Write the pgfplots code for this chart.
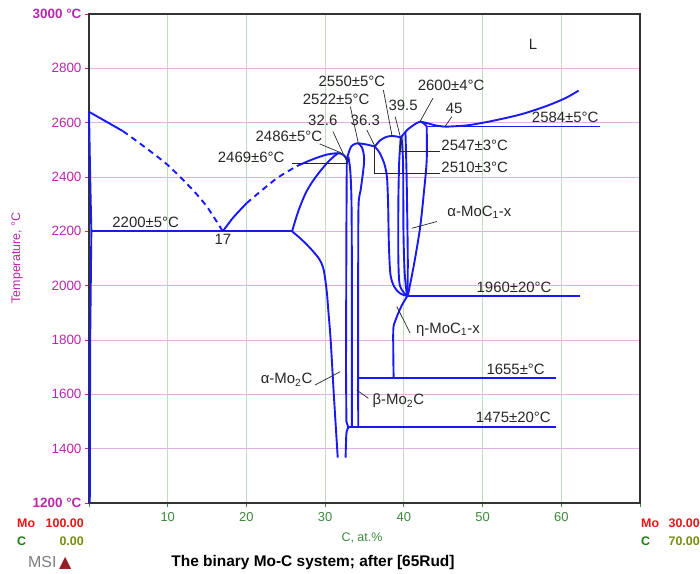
\documentclass[border=0pt]{standalone}
\usepackage{pgfplots}
\pgfplotsset{compat=1.18}
\usepackage{fontspec}
\setmainfont{Liberation Sans}
\newfontfamily\symfont{DejaVu Sans}
\definecolor{lineblue}{RGB}{25,25,245}
\definecolor{ymag}{RGB}{185,40,170}
\definecolor{xgreen}{RGB}{60,135,60}
\definecolor{cgreen}{RGB}{20,130,20}
\definecolor{olive}{RGB}{120,140,10}
\definecolor{gridmag}{RGB}{228,175,228}
\definecolor{gridgreen}{RGB}{190,222,190}
\definecolor{msired}{RGB}{235,20,20}
\definecolor{msigray}{RGB}{125,125,125}
\definecolor{logored}{RGB}{150,30,40}
\tikzset{
  bl/.style={draw=lineblue, line width=1.9bp, mark=none},
  dsh/.style={draw=lineblue, line width=1.9bp, mark=none, dash pattern=on 6bp off 4.5bp},
  ld/.style={draw=black!85, line width=0.7bp, mark=none},
  lbl/.style={font=\fontsize{15}{17}\selectfont, text=black!85, inner sep=0pt},
}
\begin{document}
\begin{tikzpicture}[x=1bp,y=1bp]
\useasboundingbox (-89,-71) rectangle (611,503);
\begin{axis}[
  at={(0,0)}, anchor=south west,
  scale only axis, width=551bp, height=489bp,
  xmin=0, xmax=70, ymin=1200, ymax=3000,
  xtick={0,10,20,30,40,50,60,70}, xticklabels={,10,20,30,40,50,60,},
  ytick={1200,1400,1600,1800,2000,2200,2400,2600,2800,3000},
  yticklabels={\textbf{1200 °C},1400,1600,1800,2000,2200,2400,2600,2800,\textbf{3000 °C}},
  xmajorgrids, ymajorgrids,
  x grid style={gridgreen, line width=0.9bp},
  y grid style={gridmag, line width=0.9bp},
  tick pos=left,
  tick align=outside, major tick length=4bp,
  tick style={line width=0.9bp},
  every major x tick/.append style={xgreen},
  every major y tick/.append style={ymag},
  xticklabel style={text=xgreen, font=\fontsize{13}{15}\selectfont, yshift=-2bp},
  yticklabel style={text=ymag, font=\fontsize{13.5}{15}\selectfont},
  axis line style={black!80, line width=1.2bp},
  clip=false,
]
% ---- Mo side ----
\addplot[bl] coordinates {(0,2640) (4.3,2569)};
\addplot[dsh, smooth] coordinates {(4.3,2569) (7,2512) (10,2444) (13,2358) (15,2290) (17,2200)};
\addplot[bl] coordinates {(0,2640) (0.15,2400) (0.3,2200) (0.15,1800) (0.1,1200)};
\addplot[bl] coordinates {(0.3,2200) (25.8,2200)};
% ---- Mo2C liquidus from eutectic ----
\addplot[bl, smooth] coordinates {(17,2200) (18.3,2250) (20,2303)};
\addplot[dsh, smooth] coordinates {(20,2303) (22,2352) (24,2398) (26.4,2440)};
\addplot[bl, smooth] coordinates {(26.4,2440) (28.5,2466) (30.3,2483) (31.7,2488)};
% ---- Mo2C solidus / solvus ----
\addplot[bl, smooth] coordinates {(25.8,2200) (26.6,2275) (27.6,2345) (28.8,2400) (30.2,2450) (31.2,2478) (31.7,2488)};
\addplot[bl, smooth] coordinates {(25.8,2200) (27,2170) (28.1,2138) (29.2,2100) (29.8,2060) (30.2,1980) (30.4,1910) (30.7,1800) (31.1,1600) (31.6,1367)};
\addplot[bl, smooth] coordinates {(31.7,2488) (32.3,2482) (32.75,2467)};
\addplot[bl] coordinates {(32.75,2467) (32.7,2200) (32.65,1700) (32.7,1500) (32.95,1478)};
\addplot[bl, smooth] coordinates {(32.95,1478) (32.7,1455) (32.6,1367)};
% ---- beta-Mo2C dome ----
\addplot[bl, smooth] coordinates {(32.75,2467) (33.0,2490) (33.3,2512) (33.8,2522) (34.2,2524)};
\addplot[bl, smooth] coordinates {(32.95,2475) (33.2,2420) (33.35,2300) (33.4,2000) (33.4,1478)};
\addplot[bl, smooth] coordinates {(34.2,2524) (35.2,2520) (36.3,2512)};
\addplot[bl, smooth] coordinates {(34.2,2524) (34.7,2508) (34.95,2470) (34.85,2426) (34.5,2350) (34.25,2300) (34.2,2100) (34.2,1478)};
% ---- eta dome ----
\addplot[bl, smooth] coordinates {(36.3,2512) (37.0,2535) (37.8,2548) (38.5,2551)};
\addplot[bl, smooth] coordinates {(38.5,2551) (39.1,2549) (39.6,2545)};
\addplot[bl, smooth] coordinates {(36.3,2512) (36.9,2490) (37.5,2450) (37.85,2400) (38.0,2300) (38.1,2150) (38.3,2040) (38.8,1995) (39.5,1972) (40.4,1962)};
\addplot[bl, smooth] coordinates {(39.6,2545) (39.4,2450) (39.3,2300) (39.3,2100) (39.5,2000) (40.4,1962)};
% ---- alpha-MoC dome ----
\addplot[bl, smooth] coordinates {(39.6,2545) (40.5,2575) (41.6,2598) (42.1,2604)};
\addplot[bl, smooth] coordinates {(42.1,2604) (43.0,2598) (44.0,2590) (45.2,2585)};
\addplot[bl, smooth] coordinates {(42.1,2604) (42.6,2596) (42.9,2586)};
\addplot[bl, smooth] coordinates {(39.7,2548) (39.9,2450) (39.95,2200) (40.1,2050) (40.4,1962)};
\addplot[bl, smooth] coordinates {(40.2,2566) (40.35,2400) (40.5,2100) (40.45,1962)};
\addplot[bl, smooth] coordinates {(42.9,2586) (42.9,2460) (42.5,2330) (42.05,2211) (41.3,2080) (40.5,1962)};
% ---- graphite side ----
\addplot[bl] coordinates {(42.9,2586) (64.9,2586)};
\addplot[bl, smooth] coordinates {(45.2,2585) (48,2590) (51,2605) (54.8,2630) (58,2660) (60.5,2690) (62.2,2718)};
\addplot[bl] coordinates {(40.45,1962) (62.4,1962)};
\addplot[bl, smooth] coordinates {(40.45,1962) (39.7,1925) (38.9,1870) (38.65,1830) (38.7,1659)};
\addplot[bl] coordinates {(34.2,1659) (59.3,1659)};
\addplot[bl] coordinates {(32.95,1479) (59.3,1479)};
% ---- leader lines ----
\addplot[ld] coordinates {(29.3,2522) (32.0,2489)};
\addplot[ld] coordinates {(31.0,2567) (32.65,2463)};
\addplot[ld] coordinates {(25.8,2450) (32.8,2450) (32.8,2469)};
\addplot[ld] coordinates {(33.2,2659) (34.2,2526)};
\addplot[ld] coordinates {(35.3,2573) (36.3,2514)};
\addplot[ld] coordinates {(37.4,2720) (38.5,2551)};
\addplot[ld] coordinates {(38.9,2622) (39.6,2542)};
\addplot[ld] coordinates {(43.7,2690) (42.05,2604)};
\addplot[ld] coordinates {(46.1,2622) (45.2,2585)};
\addplot[ld] coordinates {(39.6,2542) (39.6,2493) (44.6,2493)};
\addplot[ld] coordinates {(36.3,2514) (36.3,2414) (44.6,2414)};
\addplot[ld] coordinates {(41.0,2211) (44.2,2236)};
\addplot[ld] coordinates {(39.1,1923) (40.8,1825)};
\addplot[ld] coordinates {(35.5,1585) (34.0,1616)};
\addplot[ld] coordinates {(28.7,1634) (31.9,1683)};
% ---- labels ----
\node[lbl] at (axis cs:56.4,2890) {L};
\node[lbl] at (axis cs:60.5,2621) {2584±5°C};
\node[lbl] at (axis cs:46.0,2739) {2600±4°C};
\node[lbl] at (axis cs:46.4,2654) {45};
\node[lbl] at (axis cs:39.9,2662) {39.5};
\node[lbl] at (axis cs:33.4,2753) {2550±5°C};
\node[lbl] at (axis cs:31.4,2687) {2522±5°C};
\node[lbl] at (axis cs:29.7,2610) {32.6};
\node[lbl] at (axis cs:35.1,2610) {36.3};
\node[lbl] at (axis cs:25.4,2551) {2486±5°C};
\node[lbl] at (axis cs:20.6,2472) {2469±6°C};
\node[lbl] at (axis cs:7.2,2234) {2200±5°C};
\node[lbl] at (axis cs:17.0,2172) {17};
\node[lbl] at (axis cs:49.0,2518) {2547±3°C};
\node[lbl] at (axis cs:49.0,2436) {2510±3°C};
\node[lbl] at (axis cs:49.6,2269) {α-MoC\textsubscript{1}-x};
\node[lbl] at (axis cs:54.0,1995) {1960±20°C};
\node[lbl] at (axis cs:45.6,1837) {η-MoC\textsubscript{1}-x};
\node[lbl] at (axis cs:54.2,1692) {1655±°C};
\node[lbl] at (axis cs:39.3,1575) {β-Mo\textsubscript{2}C};
\node[lbl] at (axis cs:53.9,1515) {1475±20°C};
\node[lbl] at (axis cs:25.1,1653) {α-Mo\textsubscript{2}C};
\end{axis}
% ---- outside texts ----
\node[rotate=90, text=ymag, font=\fontsize{12.5}{14}\selectfont] at (-72,245) {Temperature, °C};
\node[text=xgreen, font=\fontsize{12.5}{14}\selectfont] at (273,-35) {C, at.\%};
\node[anchor=west, text=msired, font=\bfseries\fontsize{12.5}{14}\selectfont, inner sep=0pt] at (-72,-20) {Mo};
\node[anchor=east, text=msired, font=\bfseries\fontsize{12.5}{14}\selectfont, inner sep=0pt] at (-5,-20) {100.00};
\node[anchor=west, text=cgreen, font=\bfseries\fontsize{12.5}{14}\selectfont, inner sep=0pt] at (-72,-38) {C};
\node[anchor=east, text=olive, font=\bfseries\fontsize{12.5}{14}\selectfont, inner sep=0pt] at (-5,-38) {0.00};
\node[anchor=west, text=msired, font=\bfseries\fontsize{12.5}{14}\selectfont, inner sep=0pt] at (552,-20) {Mo};
\node[anchor=east, text=msired, font=\bfseries\fontsize{12.5}{14}\selectfont, inner sep=0pt] at (611,-20) {30.00};
\node[anchor=west, text=cgreen, font=\bfseries\fontsize{12.5}{14}\selectfont, inner sep=0pt] at (552,-38) {C};
\node[anchor=east, text=olive, font=\bfseries\fontsize{12.5}{14}\selectfont, inner sep=0pt] at (611,-38) {70.00};
\node[anchor=west, text=msigray, font=\fontsize{16}{18}\selectfont, inner sep=0pt] at (-61,-60) {MSI\,{\symfont\color{logored}▲}};
\node[text=black, font=\bfseries\fontsize{15.5}{17}\selectfont, inner sep=0pt] at (224,-60) {The binary Mo-C system; after [65Rud]};
\end{tikzpicture}
\end{document}
